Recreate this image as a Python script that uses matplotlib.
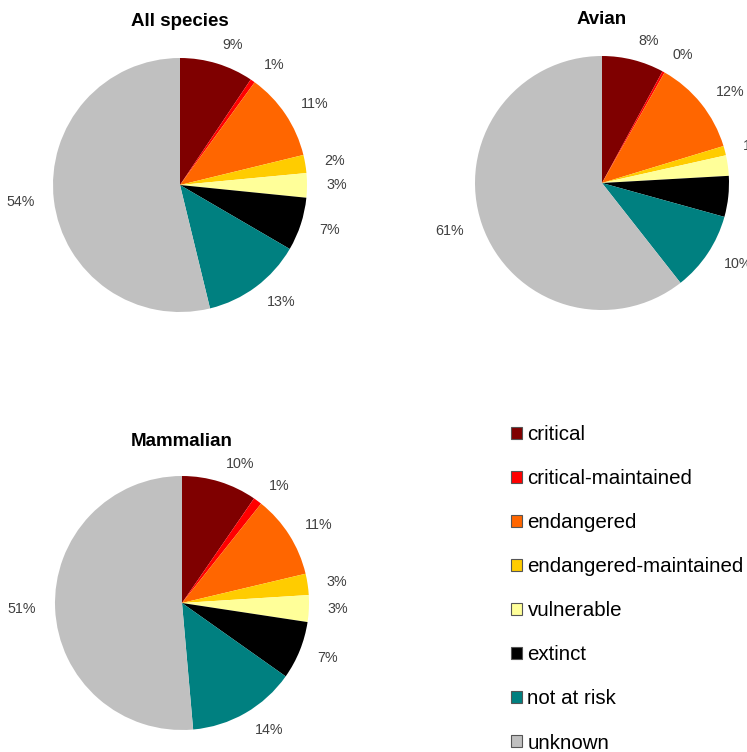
import matplotlib.pyplot as plt
from matplotlib.patches import Patch

plt.rcParams['font.family'] = ['Liberation Sans', 'DejaVu Sans']

categories = ['critical', 'critical-maintained', 'endangered', 'endangered-maintained',
              'vulnerable', 'extinct', 'not at risk', 'unknown']
colors = ['#7F0000', '#FF0000', '#FF6600', '#FFCC00',
          '#FFFF99', '#000000', '#008080', '#C0C0C0']

# percent of breeds per risk status
all_species = [9.4, 0.6, 11.2, 2.3, 3.1, 6.8, 12.8, 53.8]
avian = [7.9, 0.3, 12.1, 1.2, 2.6, 5.2, 10.1, 60.6]
mammalian = [9.6, 1.1, 10.6, 2.7, 3.4, 7.4, 13.8, 51.4]

W, H = 747, 752
R = 127  # pie radius in pixels

fig = plt.figure(figsize=(W / 100, H / 100), dpi=100)


def draw_pie(values, title, cx, cy, title_y):
    ax = fig.add_axes([(cx - R) / W, (H - cy - R) / H, 2 * R / W, 2 * R / H])
    ax.pie(values, colors=colors, startangle=90, counterclock=False,
           autopct='%.0f%%', pctdistance=1.15, labeldistance=None,
           textprops=dict(fontsize=10.3, color='#404040'),
           wedgeprops=dict(linewidth=0))
    # put the percentages outside like the label callouts
    for t in ax.texts:
        x, _ = t.get_position()
        t.set_ha('left' if x > 0.02 else ('right' if x < -0.02 else 'center'))
    ax.set_xlim(-1, 1)
    ax.set_ylim(-1, 1)
    ax.set_aspect('equal')
    fig.text(cx / W, 1 - title_y / H, title, ha='center', va='center',
             fontsize=13.5, fontweight='bold')


draw_pie(all_species, 'All species', 180, 185, 21)
draw_pie(avian, 'Avian', 602, 183, 19)
draw_pie(mammalian, 'Mammalian', 182, 603, 442)

handles = [Patch(facecolor=c, edgecolor='#555555', linewidth=0.8) for c in colors]
fig.legend(handles, categories, loc='upper left', bbox_to_anchor=(511 / W, 1 - 425 / H),
           frameon=False, fontsize=14.8, handlelength=0.55, handleheight=0.55,
           handletextpad=0.25, labelspacing=1.22, borderaxespad=0, borderpad=0)

fig.savefig('out.png', dpi=100)
